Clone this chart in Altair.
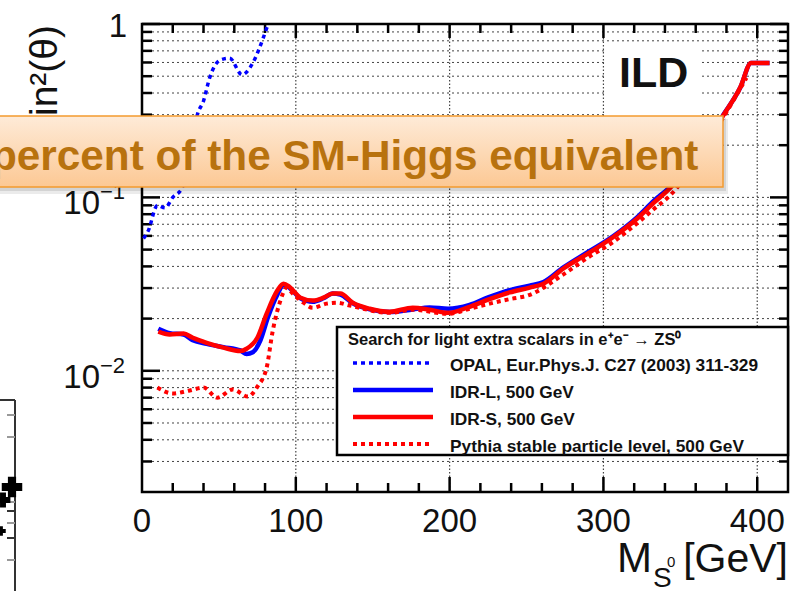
import altair as alt
import pandas as pd

# ---------------- data ----------------
opal_m = [1, 4, 10, 15, 20, 26, 31, 36, 40, 44, 51, 57, 65, 72, 79, 82]
opal_v = [0.058, 0.064, 0.090, 0.087, 0.100, 0.113, 0.17, 0.30, 0.36, 0.49, 0.62, 0.635, 0.51, 0.595, 0.84, 1.0]

idrl_m = [10.6, 18, 27, 33, 42, 53, 64, 68, 72, 77, 82, 88, 92, 96, 103, 111, 118, 124, 129, 137, 148, 161,
          176, 187, 199, 213, 225, 239, 252, 261, 274, 290, 306, 322, 333, 342, 378, 389, 396, 400, 408]
idrl_v = [0.0175, 0.0165, 0.0162, 0.0150, 0.0143, 0.0137, 0.0131, 0.0125, 0.0128, 0.0150, 0.0205, 0.0275,
          0.0312, 0.0300, 0.0262, 0.0250, 0.0262, 0.0279, 0.0275, 0.0245, 0.0226, 0.0218, 0.0226, 0.0232,
          0.0228, 0.0240, 0.0265, 0.0292, 0.0310, 0.0325, 0.0395, 0.0485, 0.0595, 0.0770, 0.0960, 0.112,
          0.300, 0.430, 0.595, 0.595, 0.595]

idrs_m = [10.6, 18, 27, 33, 42, 53, 64, 68, 75, 81, 88, 92, 96, 103, 111, 118, 124, 129, 137, 148, 161,
          176, 187, 199, 213, 225, 239, 252, 261, 274, 290, 306, 322, 333, 342, 378, 389, 396, 400, 408]
idrs_v = [0.0168, 0.0162, 0.0164, 0.0155, 0.0145, 0.0136, 0.0130, 0.0134, 0.0155, 0.0213, 0.0290, 0.0318,
          0.0304, 0.0264, 0.0254, 0.0264, 0.0279, 0.0279, 0.0247, 0.0228, 0.0219, 0.0231, 0.0225, 0.0216,
          0.0234, 0.0257, 0.0283, 0.0302, 0.0318, 0.0389, 0.0475, 0.0587, 0.0756, 0.0935, 0.110,
          0.298, 0.432, 0.595, 0.595, 0.595]

pyth_m = [10, 20, 31, 40, 49, 59, 69, 75, 81, 85, 90, 94, 98, 105, 111, 120, 127, 135, 161, 176, 199,
          213, 226, 239, 251, 274, 290, 306, 322, 333, 342, 378, 393]
pyth_v = [0.0080, 0.0074, 0.0077, 0.0080, 0.0070, 0.0078, 0.0071, 0.0081, 0.0104, 0.0170, 0.0254, 0.0302,
          0.0279, 0.0247, 0.0231, 0.0244, 0.0247, 0.0238, 0.0216, 0.0225, 0.0213, 0.0228, 0.0244, 0.0259,
          0.0272, 0.0360, 0.0450, 0.0550, 0.0710, 0.0860, 0.100, 0.290, 0.490]

x_labels = [0, 100, 200, 300, 400]
x_major = [100, 200, 300, 400]
x_minor = [20, 40, 60, 80, 120, 140, 160, 180, 220, 240, 260, 280, 320, 340, 360, 380]
y_major = [0.01, 0.1, 1.0]
y_minor = [0.003, 0.004, 0.005, 0.006, 0.007, 0.008, 0.009,
           0.02, 0.03, 0.04, 0.05, 0.06, 0.07, 0.08, 0.09,
           0.2, 0.3, 0.4, 0.5, 0.6, 0.7, 0.8, 0.9]
y_exp_values = [0.01, 0.1]
y_exp_text = ["\u22122", "\u22121"]

legend_title = "Search for light extra scalars in e\u207ae\u207b \u2192 ZS\u2070"
legend_labels = ["OPAL, Eur.Phys.J. C27 (2003) 311-329", "IDR-L, 500 GeV",
                 "IDR-S, 500 GeV", "Pythia stable particle level, 500 GeV"]
banner_text = "percent of the SM-Higgs equivalent"

# ---------------- layout ----------------
X0, Y0 = 142, 24
W, H = 646, 468
FONT = "Liberation Sans"


def ax(px):
    return px - X0


def ay(py):
    return py - Y0


xs = alt.Scale(domain=[0, 420], nice=False, zero=False)
ys = alt.Scale(type="log", domain=[0.002, 1], nice=False)

one = pd.DataFrame({"t": [""]})


def txt(s, x, y, size, weight="normal", align="left", color="black", angle=None, baseline="alphabetic"):
    kw = dict(font=FONT, fontSize=size, fontWeight=weight, align=align, baseline=baseline, color=color)
    if angle is not None:
        kw["angle"] = angle
    return alt.Chart(pd.DataFrame({"t": [s]})).mark_text(**kw).encode(
        x=alt.value(ax(x)), y=alt.value(ay(y)), text="t:N")


def box(x1, x2, y1, y2, **kw):
    return alt.Chart(one).mark_rect(**kw).encode(
        x=alt.value(ax(x1)), x2=alt.value(ax(x2)), y=alt.value(ay(y1)), y2=alt.value(ay(y2)))


def seg(x1, x2, y1, y2, **kw):
    return alt.Chart(one).mark_rule(**kw).encode(
        x=alt.value(ax(x1)), x2=alt.value(ax(x2)), y=alt.value(ay(y1)), y2=alt.value(ay(y2)))


layers = []

# grid
ygrid = pd.DataFrame({"v": y_minor + y_major[:-1]})
layers.append(alt.Chart(ygrid).mark_rule(color="#444", strokeWidth=1, strokeDash=[2, 3]).encode(
    y=alt.Y("v:Q", scale=ys, axis=None), x=alt.value(0), x2=alt.value(W)))
layers.append(alt.Chart(pd.DataFrame({"m": x_major})).mark_rule(color="#444", strokeWidth=1.2, strokeDash=[1.5, 2]).encode(
    x=alt.X("m:Q", scale=xs, axis=None), y=alt.value(0), y2=alt.value(H)))

# ticks (inside the frame, ROOT style)
ymaj = pd.DataFrame({"v": y_major})
ymin = pd.DataFrame({"v": y_minor})
xmaj = pd.DataFrame({"m": x_major})
xmin = pd.DataFrame({"m": x_minor})
tk = dict(color="black", strokeWidth=2.5)
for d, a, b in [(ymaj, 0, 18), (ymin, 0, 10), (ymaj, W - 18, W), (ymin, W - 9, W)]:
    layers.append(alt.Chart(d).mark_rule(**tk).encode(
        y=alt.Y("v:Q", scale=ys, axis=None), x=alt.value(a), x2=alt.value(b)))
for d, a, b in [(xmaj, H - 15, H), (xmin, H - 9, H), (xmaj, 0, 14), (xmin, 0, 9)]:
    layers.append(alt.Chart(d).mark_rule(**tk).encode(
        x=alt.X("m:Q", scale=xs, axis=None), y=alt.value(a), y2=alt.value(b)))


def curve(m, v, color, dash=None, width=4.0):
    kw = dict(color=color, strokeWidth=width, clip=True, interpolate="monotone", strokeCap="butt")
    if dash:
        kw["strokeDash"] = dash
    return alt.Chart(pd.DataFrame({"m": m, "v": v})).mark_line(**kw).encode(
        x=alt.X("m:Q", scale=xs, axis=None), y=alt.Y("v:Q", scale=ys, axis=None), order="m:Q")


layers.append(curve(opal_m, opal_v, "#0000ff", dash=[4, 4], width=3.5))
layers.append(curve(idrl_m, idrl_v, "#0000ff", width=4.5))
layers.append(curve(pyth_m, pyth_v, "#ff0000", dash=[4, 4], width=4))
layers.append(curve(idrs_m, idrs_v, "#ff0000", width=4.5))

# tick labels
lab = dict(font=FONT, fontSize=33, color="#111")
layers.append(alt.Chart(pd.DataFrame({"m": x_labels, "t": [str(v) for v in x_labels]})).mark_text(
    align="center", baseline="alphabetic", **lab).encode(
    x=alt.X("m:Q", scale=xs, axis=None), y=alt.value(H + 40), text="t:N"))
layers.append(alt.Chart(pd.DataFrame({"v": [1.0], "t": ["1"]})).mark_text(
    align="right", baseline="alphabetic", dy=13, **lab).encode(
    y=alt.Y("v:Q", scale=ys, axis=None), x=alt.value(ax(127)), text="t:N"))
layers.append(alt.Chart(pd.DataFrame({"v": y_exp_values, "t": ["10", "10"]})).mark_text(
    align="right", baseline="alphabetic", dy=17, **lab).encode(
    y=alt.Y("v:Q", scale=ys, axis=None), x=alt.value(ax(100)), text="t:N"))
layers.append(alt.Chart(pd.DataFrame({"v": y_exp_values, "t": y_exp_text})).mark_text(
    align="left", baseline="alphabetic", dy=2, font=FONT, fontSize=22, color="#111").encode(
    y=alt.Y("v:Q", scale=ys, axis=None), x=alt.value(ax(100)), text="t:N"))

# axis titles
layers.append(txt("sin\u00b2(\u03b8)", 57, 25, 39, align="right", angle=270, color="#111"))
layers.append(txt("M", 652, 572, 42, align="right", color="#111"))
layers.append(txt("S", 653, 587, 28, color="#111"))
layers.append(txt("0", 667, 567, 15, color="#111"))
layers.append(txt("[GeV]", 788, 572, 41, align="right", color="#111"))

# legend
layers.append(box(337, 788, 327, 455, fill="white", stroke="black", strokeWidth=2.5))
layers.append(txt(legend_title, 348, 345, 16.5, weight="bold", color="#111"))
entry_y = [363, 390, 417, 444]
styles = [("#0000ff", [4, 4], 3.5), ("#0000ff", None, 4.5), ("#ff0000", None, 4.5), ("#ff0000", [4, 4], 4)]
for lbl, yy, (col, dash, wdt) in zip(legend_labels, entry_y, styles):
    kw = dict(color=col, strokeWidth=wdt, strokeCap="butt")
    if dash:
        kw["strokeDash"] = dash
    layers.append(seg(353, 433, yy, yy, **kw))
    layers.append(txt(lbl, 450, yy + 8, 17.3, weight="bold", color="#111"))

# ILD label
layers.append(box(606, 702, 46, 116, fill="white"))
layers.append(txt("ILD", 619, 87, 43, weight="bold", color="#111"))

# fragment of neighbouring plot (bottom-left)
layers.append(seg(15, 15, 400, 595, color="#333", strokeWidth=2))
layers.append(seg(-5, 15, 400, 400, color="#333", strokeWidth=2))
for yy in [415, 437, 502, 523, 560]:
    layers.append(seg(7, 15, yy, yy, color="#999", strokeWidth=2))
for yy in [511, 538]:
    layers.append(seg(7, 15, yy, yy, color="#333", strokeWidth=2))
for (cx, cy, sz) in [(12, 487, 420), (3, 500, 220), (1, 531, 90)]:
    layers.append(alt.Chart(one).mark_point(shape="cross", filled=True, color="black", size=sz, opacity=1).encode(
        x=alt.value(ax(cx)), y=alt.value(ay(cy))))

# banner
layers.append(box(-10, 728, 119, 194, fill="#000", opacity=0.08))
layers.append(box(-10, 726, 118, 191, fill="#000", opacity=0.10))
grad = alt.LinearGradient(gradient="linear",
                          stops=[alt.GradientStop(color="#feebd8", offset=0),
                                 alt.GradientStop(color="#fcc894", offset=1)],
                          x1=0, x2=0, y1=0, y2=1)
layers.append(box(-10, 723, 116, 187, fill=grad, stroke="#f39a2e", strokeWidth=1.5))
layers.append(txt(banner_text, -9, 170, 42.3, weight="bold", color="#b8720e"))

chart = alt.layer(*layers).properties(
    width=W, height=H,
    padding={"left": X0, "top": Y0, "right": 798 - X0 - W, "bottom": 591 - Y0 - H},
    autosize=alt.AutoSizeParams(type="none"),
    background="white",
).configure_view(stroke="black", strokeWidth=2.5)

chart.save("out.html", embed_options={"renderer": "svg", "actions": False})
